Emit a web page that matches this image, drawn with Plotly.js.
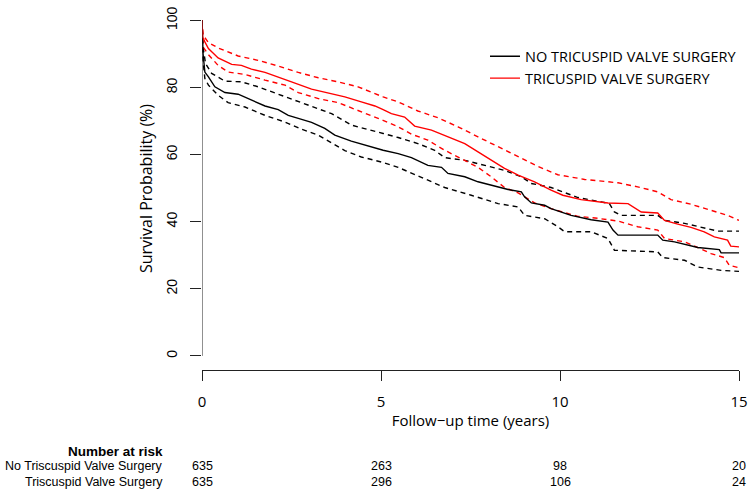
<!DOCTYPE html>
<html>
<head>
<meta charset="utf-8">
<script src="https://cdn.plot.ly/plotly-3.0.1.min.js"></script>
<style>html,body{margin:0;padding:0;background:#fff;}#chart{width:754px;height:497px;}</style>
</head>
<body>
<div id="chart"></div>
<script>
// ---- Data (time in years, survival in %) ----
const noT_time = [0, 0.03, 0.08, 0.18, 0.36, 0.64, 1.01, 1.38, 1.76, 2.13, 2.41, 2.69, 3.06, 3.43, 3.71, 4.17, 4.73, 5.06, 5.48, 5.85, 6.31, 6.69, 6.87, 7.34, 7.71, 8.18, 8.55, 8.92, 9.01, 9.2, 9.57, 9.75, 10.08, 10.31, 10.87, 11.34, 11.48, 11.62, 12.73, 12.87, 13.2, 13.57, 13.85, 14.45, 14.5, 15];
const noT_surv = [100, 90, 84.6, 83.2, 80.2, 78.5, 78, 76.2, 74.5, 73.4, 71.7, 70.8, 69.6, 67.8, 65.8, 64.0, 62.3, 61.3, 60.3, 59.1, 56.8, 56.2, 54.4, 53.4, 51.9, 50.6, 49.6, 48.9, 47.4, 45.6, 44.9, 43.9, 42.6, 41.9, 40.6, 39.9, 37.5, 36.0, 36.0, 34.5, 34.0, 33.0, 32.3, 31.7, 30.7, 30.7];

const noT_hi_time = [0, 0.03, 0.1, 0.27, 0.64, 1.1, 1.57, 2.13, 2.69, 3.15, 3.62, 4.17, 4.55, 5.06, 5.48, 6.03, 6.5, 6.78, 7.34, 7.9, 8.45, 8.92, 9.2, 9.75, 10.08, 10.5, 11.15, 11.38, 11.52, 11.71, 12.73, 12.92, 13.48, 13.85, 14.41, 15];
const noT_hi = [100, 92, 87.1, 84.2, 81.9, 81.7, 80.2, 78.0, 75.8, 74.2, 72.2, 68.8, 67.8, 66.3, 65.1, 63.3, 61.3, 59.1, 58.3, 56.8, 55.3, 53.4, 51.4, 50.2, 48.9, 47.2, 45.9, 45.4, 42.9, 41.9, 41.9, 40.4, 39.5, 38.5, 37.2, 37.2];

const noT_lo_time = [0, 0.03, 0.08, 0.18, 0.45, 0.73, 1.2, 1.76, 2.32, 2.78, 3.25, 3.62, 3.99, 4.45, 5.01, 5.48, 6.22, 6.78, 7.52, 8.27, 8.83, 9.01, 9.57, 9.94, 10.13, 10.87, 11.34, 11.52, 12.73, 12.87, 13.48, 13.85, 14.5, 15];
const noT_lo = [100, 88, 82.7, 80.7, 77.7, 75.5, 74.2, 71.7, 69.7, 67.6, 65.8, 63.6, 61.2, 59.3, 57.8, 56.2, 52.9, 50.2, 47.9, 45.4, 44.4, 41.9, 40.9, 38.5, 37.0, 37.0, 35.0, 31.5, 31.0, 29.3, 28.5, 26.5, 25.5, 25.2];

const tv_time = [0, 0.02, 0.08, 0.18, 0.45, 0.83, 1.1, 1.38, 1.76, 2.13, 2.5, 3.06, 3.62, 3.99, 4.45, 4.83, 5.06, 5.29, 5.66, 5.94, 6.41, 6.87, 7.34, 7.71, 8.08, 8.45, 8.83, 9.29, 9.75, 10.08, 10.59, 11.34, 11.9, 12.27, 12.73, 12.92, 13.29, 13.66, 14.03, 14.31, 14.68, 14.77, 15];
const tv_surv = [100, 95, 93.6, 91.6, 88.8, 86.9, 86.6, 85.5, 84.5, 83.2, 81.7, 79.5, 78.2, 77.2, 75.7, 74.5, 73.4, 72.2, 71.2, 68.5, 67.3, 65.3, 63.3, 60.8, 58.3, 55.9, 53.9, 51.9, 49.4, 47.9, 46.6, 45.6, 45.4, 42.9, 42.6, 40.4, 39.3, 38.3, 37.0, 35.5, 34.5, 32.7, 32.5];

const tv_hi_time = [0, 0.03, 0.18, 0.45, 1.01, 1.57, 2.13, 2.69, 3.25, 3.8, 4.36, 4.83, 5.06, 5.48, 6.03, 6.59, 7.15, 7.71, 8.27, 8.83, 9.38, 9.94, 10.69, 11.62, 12.17, 12.73, 13.1, 13.66, 14.22, 14.68, 15];
const tv_hi = [100, 95.6, 93.4, 91.8, 89.4, 88.1, 86.4, 84.5, 82.9, 81.7, 80.2, 78.2, 77.2, 75.7, 73.0, 71.0, 68.3, 65.3, 62.3, 59.3, 56.5, 54.0, 52.6, 51.6, 50.4, 48.9, 46.6, 45.2, 43.4, 41.9, 40.4];

const tv_lo_time = [0, 0.03, 0.18, 0.45, 0.73, 1.2, 1.76, 2.32, 2.69, 3.25, 3.8, 4.36, 4.92, 5.48, 5.85, 6.31, 6.78, 7.24, 7.71, 8.08, 8.45, 8.83, 9.29, 9.75, 10.08, 10.5, 11.06, 11.62, 12.17, 12.73, 12.92, 13.48, 13.85, 14.22, 14.59, 14.73, 15];
const tv_lo = [100, 92.1, 89.8, 86.6, 84.6, 83.9, 82.2, 80.7, 78.5, 76.7, 75.5, 73.2, 70.8, 68.3, 66.1, 64.3, 61.3, 58.8, 56.2, 53.4, 50.2, 48.6, 45.6, 43.9, 42.9, 41.6, 41.0, 40.2, 38.5, 37.5, 35.0, 34.0, 32.3, 30.5, 29.3, 27.0, 26.3];

const legendNames = ["NO TRICUSPID VALVE SURGERY", "TRICUSPID VALVE SURGERY"];
const riskLabels = ["No Triscuspid Valve Surgery", "Triscuspid Valve Surgery"];
const riskTimes = [0, 5, 10, 15];
const riskNo = [635, 263, 98, 20];
const riskTV = [635, 296, 106, 24];
const xTicks = [0, 5, 10, 15];
const yTicks = [0, 20, 40, 60, 80, 100];

// ---- Styles ----
const BLACK = "#000000", RED = "#ff0000";
const LW = 1.4;
const DASH = "5px,4px";
const sansR = "'Open Sans', Lato, sans-serif";
const sansA = "'Liberation Sans', Arial, sans-serif";

function curve(x, y, color, dash, name, show) {
  return {
    type: "scatter", mode: "lines", x: x, y: y, name: name,
    showlegend: show, hoverinfo: "skip",
    line: {color: color, width: LW, dash: dash, shape: "linear"}
  };
}

const traces = [
  curve(noT_hi_time, noT_hi, BLACK, DASH, "", false),
  curve(noT_lo_time, noT_lo, BLACK, DASH, "", false),
  curve(tv_hi_time, tv_hi, RED, DASH, "", false),
  curve(tv_lo_time, tv_lo, RED, DASH, "", false),
  curve(noT_time, noT_surv, BLACK, "solid", legendNames[0], true),
  curve(tv_time, tv_surv, RED, "solid", legendNames[1], true)
];

const rowY = [-0.2654, -0.3087];
const annotations = [{
  text: "<b>Number at risk</b>", xref: "paper", yref: "paper",
  x: -0.0685, y: -0.2232, xanchor: "right", yanchor: "middle",
  showarrow: false, font: {family: sansA, size: 13.5, color: "#000"}
}];
riskLabels.forEach((lab, i) => {
  annotations.push({
    text: lab, xref: "paper", yref: "paper", x: -0.0685, y: rowY[i],
    xanchor: "right", yanchor: "middle", showarrow: false,
    font: {family: sansA, size: 12.5, color: "#000"}
  });
});
[riskNo, riskTV].forEach((vals, i) => {
  vals.forEach((v, j) => {
    annotations.push({
      text: String(v), xref: "x", yref: "paper", x: riskTimes[j], y: rowY[i],
      xanchor: "center", yanchor: "middle", showarrow: false,
      font: {family: sansA, size: 12.5, color: "#000"}
    });
  });
});

const layout = {
  width: 754, height: 497,
  margin: {l: 202, r: 15, t: 7, b: 127, pad: 0, autoexpand: false},
  paper_bgcolor: "#fff", plot_bgcolor: "#fff",
  showlegend: true,
  legend: {
    x: 0.527, y: 0.908, xanchor: "left", yanchor: "top",
    font: {family: sansR, size: 14.5, color: "#000"},
    bgcolor: "rgba(0,0,0,0)", borderwidth: 0, tracegroupgap: 0
  },
  xaxis: {
    range: [0, 15], tickvals: xTicks, ticktext: xTicks.map(String),
    showgrid: false, zeroline: false,
    showline: true, linecolor: "#222", linewidth: 1,
    ticks: "outside", ticklen: 10, tickwidth: 1, tickcolor: "#222",
    tickfont: {family: sansR, size: 15, color: "#000"},
    ticklabelstandoff: 8,
    title: {text: "Follow\u2212up time (years)", font: {family: sansR, size: 15, color: "#000"}, standoff: 5},
    automargin: false, fixedrange: true
  },
  yaxis: {
    range: [-4.2, 104], tickvals: yTicks, ticktext: yTicks.map(String),
    showgrid: false, zeroline: false, showline: false,
    ticks: "outside", ticklen: 11, tickwidth: 1, tickcolor: "#222",
    tickangle: -90,
    tickfont: {family: sansA, size: 14, color: "#000"},
    ticklabelstandoff: 7,
    title: {text: "Survival Probability (%)", font: {family: sansR, size: 16, color: "#000"}, standoff: 7},
    automargin: false, fixedrange: true
  },
  shapes: [{
    type: "line", xref: "x", yref: "y", x0: 0, x1: 0, y0: 0, y1: 100,
    line: {color: "#222", width: 1}
  }],
  annotations: annotations
};

Plotly.newPlot("chart", traces, layout, {displayModeBar: false, staticPlot: true});
</script>
</body>
</html>
